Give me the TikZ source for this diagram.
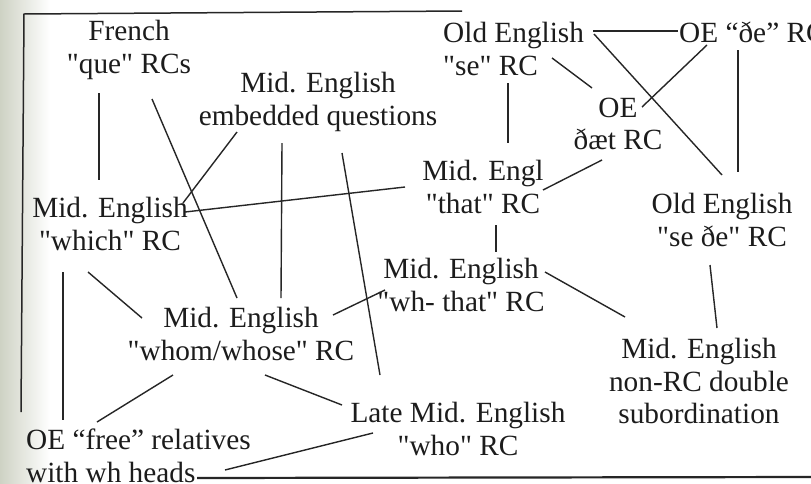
\documentclass[tikz,border=0pt]{standalone}
\usepackage{fontspec}
\setmainfont{Liberation Serif}[Ligatures=TeXOff]
\usetikzlibrary{calc}
\definecolor{ink}{RGB}{28,28,28}
\definecolor{rulecol}{RGB}{38,38,38}
\definecolor{paper}{RGB}{206,210,196}

\begin{document}
\begin{tikzpicture}[x=1pt,y=-1pt,
  lbl/.style={inner sep=0pt, align=center, anchor=north, text=ink,
    font=\fontsize{29.3}{32.5}\selectfont},
  lbll/.style={lbl, align=left, anchor=north west},
  link/.style={draw=rulecol, line width=1.4pt},
  framerule/.style={draw=rulecol, line width=1.5pt}]
\useasboundingbox (0,0) rectangle (811,483);
\clip (0,0) rectangle (811,483);
\fill[white] (0,0) rectangle (811,483);
% page edge tint
\shade[left color=paper, right color=white] (0,0) rectangle (50,483);

% frame of the figure
\draw[framerule] (21,412) -- (24,14) -- (462,11);
\draw[framerule, line width=2.2pt] (197,478) -- (811,477);

% labels
\node[lbl]  (french)   at (129,20)  {French\\"que" RCs};
\node[lbl]  (embq)     at (318,72)  {Mid. English\\embedded questions};
\node[lbll] (oese)     at (443,22)  {Old English\\"se" RC};
\node[lbll] (oede)     at (679,22)  {OE “ðe” RC};
\node[lbl]  (oedaet)   at (618,97.5) {OE\\ðæt RC};
\node[lbl]  (methat)   at (483,160) {Mid. Engl\\"that" RC};
\node[lbl]  (oesede)   at (722,193) {Old English\\"se ðe" RC};
\node[lbl]  (mewhich)  at (110,197) {Mid. English\\"which" RC};
\node[lbl]  (mewhthat) at (461,258) {Mid. English\\"wh- that" RC};
\node[lbl]  (mewhom)   at (241,307) {Mid. English\\"whom/whose" RC};
\node[lbl]  (nonrc)    at (699,338) {Mid. English\\non-RC double\\subordination};
\node[lbl]  (late)     at (458,402) {Late Mid. English\\"who" RC};
\node[lbll] (oefree)   at (26,429)  {OE “free” relatives\\with wh heads};

% connectors
\draw[link] ($(french.north)+(-30,73)$) -- ($(mewhich.north)+(-11,-17)$);
\draw[link] ($(french.north)+(23,79)$) -- ($(mewhom.north)+(-4,-9)$);
\draw[link] ($(embq.north)+(-81,60)$) -- ($(mewhich.north)+(73,6)$);
\draw[link] ($(embq.north)+(-36,71)$) -- ($(mewhom.north)+(40,-9)$);
\draw[link] ($(embq.north)+(24,81)$) -- ($(late.north)+(-78,-27)$);
\draw[link] ($(mewhich.north)+(75,15)$) -- ($(methat.north)+(-78,27)$);
\draw[link] ($(oese.north west)+(150,9)$) -- ($(oede.north west)+(-1,9)$);
\draw[link] ($(oese.north west)+(151,12)$) -- ($(oesede.north)+(0,-18)$);
\draw[link] ($(oese.north west)+(109,36)$) -- ($(oedaet.north)+(-26,-9.5)$);
\draw[link] ($(oese.north west)+(65,61)$) -- ($(methat.north)+(25,-17)$);
\draw[link] ($(oede.north west)+(28,23)$) -- ($(oedaet.north)+(24,9.5)$);
\draw[link] ($(oede.north west)+(59,28)$) -- ($(oesede.north)+(16,-21)$);
\draw[link] ($(oedaet.north)+(-16,62.5)$) -- ($(methat.north)+(60,30)$);
\draw[link] ($(methat.north)+(13,65)$) -- ($(mewhthat.north)+(35,-6)$);
\draw[link] ($(mewhthat.north)+(84,14)$) -- ($(nonrc.north)+(-74,-21)$);
\draw[link] ($(oesede.north)+(-12,72)$) -- ($(nonrc.north)+(18,-10)$);
\draw[link] ($(mewhich.north)+(-22,75)$) -- ($(mewhom.north)+(-99,11)$);
\draw[link] ($(mewhich.north)+(-47,75)$) -- ($(oefree.north west)+(37,-9)$);
\draw[link] ($(mewhom.north)+(92,8)$) -- ($(mewhthat.north)+(-76,32)$);
\draw[link] ($(mewhom.north)+(-68,68)$) -- ($(oefree.north west)+(71,-7)$);
\draw[link] ($(mewhom.north)+(24,68)$) -- ($(late.north)+(-116,3)$);
\draw[link] ($(late.north)+(-85,31)$) -- ($(oefree.north west)+(199,41)$);
\end{tikzpicture}
\end{document}
